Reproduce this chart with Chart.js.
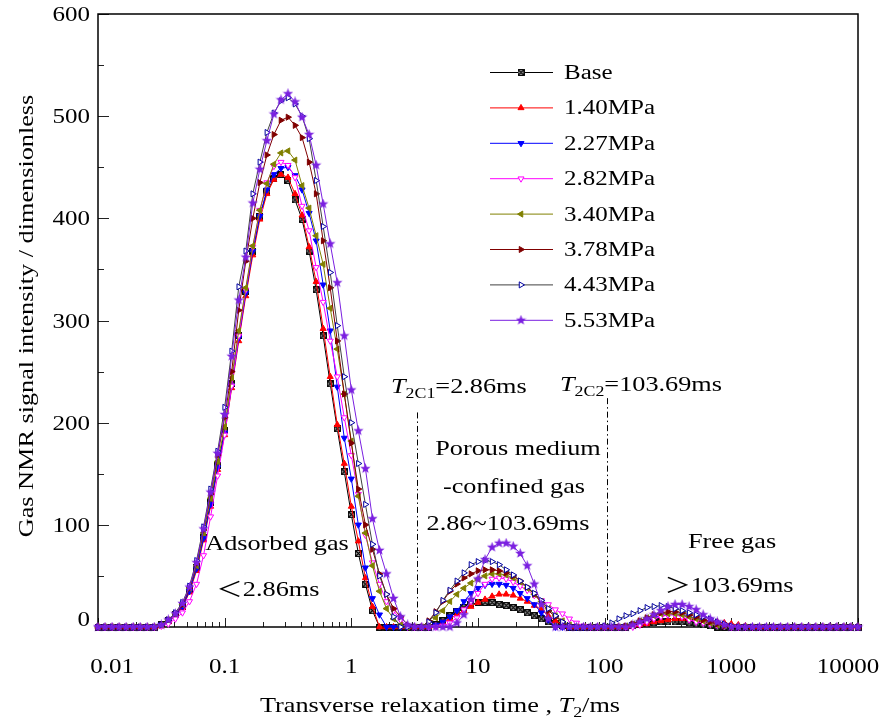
<!DOCTYPE html>
<html>
<head>
<meta charset="utf-8">
<script src="https://cdn.jsdelivr.net/npm/chart.js@4.4.0/dist/chart.umd.min.js"></script>
<style>
html, body { margin: 0; padding: 0; background: #fff; }
</style>
</head>
<body>
<canvas id="c" width="883" height="717"></canvas>
<script>
// T2 grid (ms), 18 points per decade
var t2 = [
  0.01,0.01136,0.01292,0.01468,0.01668,0.01896,0.02154,0.02448,0.02783,0.03162,0.03594,0.04084,0.04642,0.05275,0.05995,0.06813,0.07743,0.08799,
  0.1,0.1136,0.1292,0.1468,0.1668,0.1896,0.2154,0.2448,0.2783,0.3162,0.3594,0.4084,0.4642,0.5275,0.5995,0.6813,0.7743,0.8799,
  1,1.136,1.292,1.468,1.668,1.896,2.154,2.448,2.783,3.162,3.594,4.084,4.642,5.275,5.995,6.813,7.743,8.799,
  10,11.36,12.92,14.68,16.68,18.96,21.54,24.48,27.83,31.62,35.94,40.84,46.42,52.75,59.95,68.13,77.43,87.99,
  100,113.6,129.2,146.8,166.8,189.6,215.4,244.8,278.3,316.2,359.4,408.4,464.2,527.5,599.5,681.3,774.3,879.9,
  1000,1136,1292,1468,1668,1896,2154,2448,2783,3162,3594,4084,4642,5275,5995,6813,7743,8799,10000
];

var base = [
  0,0,0,0,0,0,0,0,0,2,6,12,20,36,58,88,122,158,
  192,238,285,328,368,402,426,439,443,437,418,399,368,330,285,238,194,152,
  110,72,42,16,0,0,0,0,0,0,0,0,2,6,11,15,19,22,
  24,24,24,22,21,19,17,14,11,8,5,3,1,0,0,0,0,0,
  0,0,0,0,1,2,3,4,5,5,5,5,4,3,2,1,0,0,
  0,0,0,0,0,0,0,0,0,0,0,0,0,0,0,0,0,0,0
];
var p140 = [
  0,0,0,0,0,0,0,0,0,1,5,11,19,34,55,85,118,154,
  188,234,280,324,364,399,424,438,443,440,424,403,372,338,292,245,198,160,
  118,84,48,20,0,0,0,0,0,0,0,0,1,4,8,12,16,20,
  24,27,30,32,32,31,28,25,21,17,11,6,2,0,0,0,0,0,
  0,0,0,0,1,2,3,5,6,7,8,8,8,8,7,6,5,4,
  3,2,1,0,0,0,0,0,0,0,0,0,0,0,0,0,0,0,0
];
var p227 = [
  0,0,0,0,0,0,0,0,0,2,6,12,20,35,57,87,120,156,
  190,236,283,327,368,402,428,443,449,450,442,428,405,378,335,290,235,185,
  145,100,58,28,12,0,0,0,0,0,0,0,2,5,10,16,25,33,
  38,41,42,42,41,38,33,28,22,14,7,0,0,0,0,0,0,0,
  0,0,0,1,3,5,7,9,11,12,12,11,10,8,6,4,2,1,
  0,0,0,0,0,0,0,0,0,0,0,0,0,0,0,0,0,0,0
];
var p282 = [
  0,0,0,0,0,0,0,0,0,1,3,8,14,25,42,70,108,148,
  188,236,285,330,372,408,435,451,455,452,440,412,388,352,318,280,245,205,
  168,130,90,63,42,25,16,7,0,0,0,0,0,1,4,9,17,25,
  33,42,47,48,47,44,40,36,31,26,22,17,13,8,4,1,0,0,
  0,0,0,0,0,2,5,8,10,12,12,10,7,5,4,3,2,1,
  0,0,0,0,0,0,0,0,0,0,0,0,0,0,0,0,0,0,0
];
var p340 = [
  0,0,0,0,0,0,0,0,0,2,7,13,22,38,60,92,126,162,
  196,244,290,332,373,408,434,453,464,466,457,432,410,383,355,312,272,228,
  182,128,92,60,35,18,8,2,0,0,0,3,9,16,25,32,38,43,
  47,50,52,52,51,48,44,38,32,25,18,11,6,2,0,0,0,0,
  0,0,0,1,3,6,9,11,13,13,13,12,10,8,6,4,2,1,
  0,0,0,0,0,0,0,0,0,0,0,0,0,0,0,0,0,0,0
];
var p378 = [
  0,0,0,0,0,0,0,0,0,2,7,13,22,38,62,95,130,168,
  205,250,310,358,400,435,462,482,496,499,491,479,455,424,378,332,280,228,
  180,135,100,76,52,32,18,10,2,0,0,6,15,25,35,42,48,52,
  55,56,56,55,53,50,45,39,32,24,16,10,5,1,0,0,0,0,
  0,0,0,1,3,6,9,12,14,15,15,14,12,10,7,5,3,1,
  0,0,0,0,0,0,0,0,0,0,0,0,0,0,0,0,0,0,0
];
var p443 = [
  0,0,0,0,0,0,0,0,0,2,7,14,24,40,65,98,135,172,
  215,270,333,368,424,455,484,503,515,518,512,500,478,437,392,347,295,245,
  200,160,120,81,50,32,10,0,0,0,0,5,14,26,36,45,53,61,
  64,65,64,61,56,51,45,39,33,26,18,11,5,1,0,0,0,0,
  1,4,8,11,13,16,19,20,21,20,18,16,14,12,10,8,5,3,
  1,0,0,0,0,0,0,0,0,0,0,0,0,0,0,0,0,0,0
];
var p553 = [
  0,0,0,0,0,0,0,0,0,2,7,13,23,39,63,96,132,170,
  208,265,320,362,415,448,476,502,516,522,514,499,482,452,414,375,337,285,
  232,192,155,106,75,52,28,10,2,0,0,0,0,0,0,4,12,27,
  47,66,78,82,82,79,72,60,42,22,8,0,0,0,0,0,0,0,
  0,0,0,0,2,5,8,12,16,20,22,22,20,17,12,8,5,2,
  0,0,0,0,0,0,0,0,0,0,0,0,0,0,0,0,0,0,0
];

var seriesNames = ['Base', '1.40MPa', '2.27MPa', '2.82MPa', '3.40MPa', '3.78MPa', '4.43MPa', '5.53MPa'];
var seriesData = [base, p140, p227, p282, p340, p378, p443, p553];
var xTickLabels = ['0.01', '0.1', '1', '10', '100', '1000', '10000'];
var yTickLabels = [0, 100, 200, 300, 400, 500, 600];
var t2c1 = 3.3;      // where the dash-dot line sits in the figure
var t2c2 = 103.69;

function starImg(col) {
  var c = document.createElement('canvas');
  c.width = c.height = 11;
  var g = c.getContext('2d');
  g.fillStyle = col;
  g.beginPath();
  for (var k = 0; k < 10; k++) {
    var r = k % 2 ? 2.3 : 5.4;
    var a = -Math.PI / 2 + k * Math.PI / 5;
    g.lineTo(5.5 + r * Math.cos(a), 5.5 + r * Math.sin(a));
  }
  g.closePath();
  g.fill();
  return c;
}
function boxImg() {
  var c = document.createElement('canvas');
  c.width = c.height = 7;
  var g = c.getContext('2d');
  g.fillStyle = '#fff';
  g.fillRect(0, 0, 7, 7);
  g.strokeStyle = '#000';
  g.lineWidth = 1.3;
  g.strokeRect(0.7, 0.7, 5.6, 5.6);
  g.beginPath();
  g.moveTo(1, 1); g.lineTo(6, 6);
  g.moveTo(6, 1); g.lineTo(1, 6);
  g.stroke();
  return c;
}

var styles = [
  { line: '#000000', pt: '#000000', fill: '#000000', shape: boxImg(), rot: 0 },
  { line: '#ff0000', pt: '#ff0000', fill: '#ff0000', shape: 'triangle', rot: 0 },
  { line: '#0000ff', pt: '#0000ff', fill: '#0000ff', shape: 'triangle', rot: 180 },
  { line: '#ff00ff', pt: '#ff00ff', fill: '#ffffff', shape: 'triangle', rot: 180 },
  { line: '#808000', pt: '#808000', fill: '#808000', shape: 'triangle', rot: 270 },
  { line: '#800000', pt: '#800000', fill: '#800000', shape: 'triangle', rot: 90 },
  { line: '#404040', pt: '#0000a0', fill: '#ffffff', shape: 'triangle', rot: 90 },
  { line: '#7a1fe0', pt: '#7a1fe0', fill: '#7a1fe0', shape: starImg('#7a1fe0'), rot: 0 }
];

var SX = 1.25;
var SERIF = '"Liberation Serif", "Times New Roman", "Noto Sans CJK SC", serif';

function runFont(st, size) {
  var sz = st === 's' ? size * 0.68 : size;
  return (st === 'i' ? 'italic ' : '') + sz + 'px ' + SERIF;
}
function say(ctx, runs, x, y, align, size, rot) {
  if (typeof runs === 'string') runs = [[runs, '']];
  ctx.save();
  ctx.translate(x, y);
  if (rot) ctx.rotate(rot);
  ctx.scale(SX, 1);
  ctx.textAlign = 'left';
  ctx.textBaseline = 'alphabetic';
  ctx.fillStyle = '#000';
  var w = 0;
  runs.forEach(function(r) { ctx.font = runFont(r[1], size); w += ctx.measureText(r[0]).width; });
  var cx = align === 'center' ? -w / 2 : align === 'right' ? -w : 0;
  runs.forEach(function(r) {
    ctx.font = runFont(r[1], size);
    ctx.fillText(r[0], cx, r[1] === 's' ? size * 0.22 : 0);
    cx += ctx.measureText(r[0]).width;
  });
  ctx.restore();
}

var axesPlugin = {
  id: 'axesPlugin',
  beforeDatasetsDraw: function(chart) {
    var ctx = chart.ctx, a = chart.chartArea;
    var xs = chart.scales.x, ys = chart.scales.y;
    ctx.save();
    ctx.strokeStyle = '#222';
    ctx.lineWidth = 1;
    // inward ticks, bottom axis
    for (var e = -2; e <= 4; e++) {
      for (var m = 1; m <= 9; m++) {
        var v = m * Math.pow(10, e);
        if (v > 10000) break;
        var px = Math.round(xs.getPixelForValue(v)) + 0.5;
        var len = m === 1 ? 9 : 5;
        ctx.beginPath();
        ctx.moveTo(px, a.bottom);
        ctx.lineTo(px, a.bottom - len);
        ctx.stroke();
      }
    }
    // inward ticks, left axis
    for (var yv = 0; yv <= 600; yv += 50) {
      var py = Math.round(ys.getPixelForValue(yv)) + 0.5;
      ctx.beginPath();
      ctx.moveTo(a.left, py);
      ctx.lineTo(a.left + (yv % 100 ? 6 : 11), py);
      ctx.stroke();
    }
    // frame
    ctx.strokeStyle = '#000';
    ctx.lineWidth = 1.5;
    ctx.strokeRect(a.left, a.top, a.right - a.left, a.bottom - a.top);

    // dash-dot boundaries
    ctx.lineWidth = 1;
    ctx.setLineDash([6, 3, 1.5, 3]);
    [[t2c1, 210], [t2c2, 224]].forEach(function(d) {
      var lx = Math.round(xs.getPixelForValue(d[0])) + 0.5;
      ctx.beginPath();
      ctx.moveTo(lx, ys.getPixelForValue(d[1]));
      ctx.lineTo(lx, a.bottom);
      ctx.stroke();
    });
    ctx.restore();
  },
  afterDraw: function(chart) {
    var ctx = chart.ctx, a = chart.chartArea;
    var xs = chart.scales.x, ys = chart.scales.y;

    // tick labels
    xTickLabels.forEach(function(t, i) {
      var px = xs.getPixelForValue(parseFloat(t));
      if (i === 0) px += 14;
      if (i === xTickLabels.length - 1) px -= 10;
      say(ctx, t, px, 673, 'center', 20);
    });
    yTickLabels.forEach(function(v) {
      var py = ys.getPixelForValue(v);
      say(ctx, String(v), 90, v === 0 ? py - 1 : py + 7, 'right', 20);
    });

    // axis titles
    say(ctx, [['Transverse relaxation time , ', ''], ['T', 'i'], ['2', 's'], ['/ms', '']], 440, 712, 'center', 21);
    say(ctx, 'Gas NMR signal intensity / dimensionless', 33, 316, 'center', 21, -Math.PI / 2);

    // region notes
    say(ctx, 'Adsorbed gas', 277, 550, 'center', 21);
    say(ctx, '\uFF1C2.86ms', 268, 596, 'center', 21);
    say(ctx, [['T', 'i'], ['2C1', 's'], ['=2.86ms', '']], 391, 393, 'left', 21);
    say(ctx, [['T', 'i'], ['2C2', 's'], ['=103.69ms', '']], 560, 391, 'left', 21);
    say(ctx, 'Porous medium', 518, 455, 'center', 21);
    say(ctx, '-confined gas', 514, 493, 'center', 21);
    say(ctx, '2.86~103.69ms', 508, 530, 'center', 21);
    say(ctx, 'Free gas', 732, 548, 'center', 21);
    say(ctx, '\uFF1E103.69ms', 729, 592, 'center', 21);

    // legend
    seriesNames.forEach(function(name, i) {
      var st = styles[i];
      var ly = 72 + i * 35.4;
      ctx.save();
      ctx.strokeStyle = st.line;
      ctx.lineWidth = 1;
      ctx.beginPath();
      ctx.moveTo(490, ly + 0.5);
      ctx.lineTo(553, ly + 0.5);
      ctx.stroke();
      ctx.fillStyle = st.fill;
      ctx.strokeStyle = st.pt;
      Chart.helpers.drawPoint(ctx, { pointStyle: st.shape, rotation: st.rot, radius: 3.5, borderWidth: 1 }, 521, ly + 0.5);
      ctx.restore();
      say(ctx, name, 564, ly + 7, 'left', 20);
    });
  }
};

var datasets = seriesNames.map(function(name, i) {
  var st = styles[i];
  return {
    label: name,
    data: t2.map(function(x, k) { return { x: x, y: seriesData[i][k] }; }),
    borderColor: st.line,
    borderWidth: 1,
    pointStyle: st.shape,
    pointRotation: st.rot,
    pointRadius: 3.5,
    pointBackgroundColor: st.fill,
    pointBorderColor: st.pt,
    pointBorderWidth: 1,
    tension: 0,
    clip: false,
    order: seriesNames.length - i
  };
});

new Chart(document.getElementById('c'), {
  type: 'line',
  data: { datasets: datasets },
  options: {
    responsive: false,
    animation: false,
    devicePixelRatio: 1,
    layout: { padding: { left: 98, right: 25, top: 14, bottom: 90 } },
    plugins: { legend: { display: false }, tooltip: { enabled: false } },
    scales: {
      x: { type: 'logarithmic', min: 0.01, max: 10000, display: false },
      y: { type: 'linear', min: 0, max: 600, display: false }
    }
  },
  plugins: [axesPlugin]
});
</script>
</body>
</html>
